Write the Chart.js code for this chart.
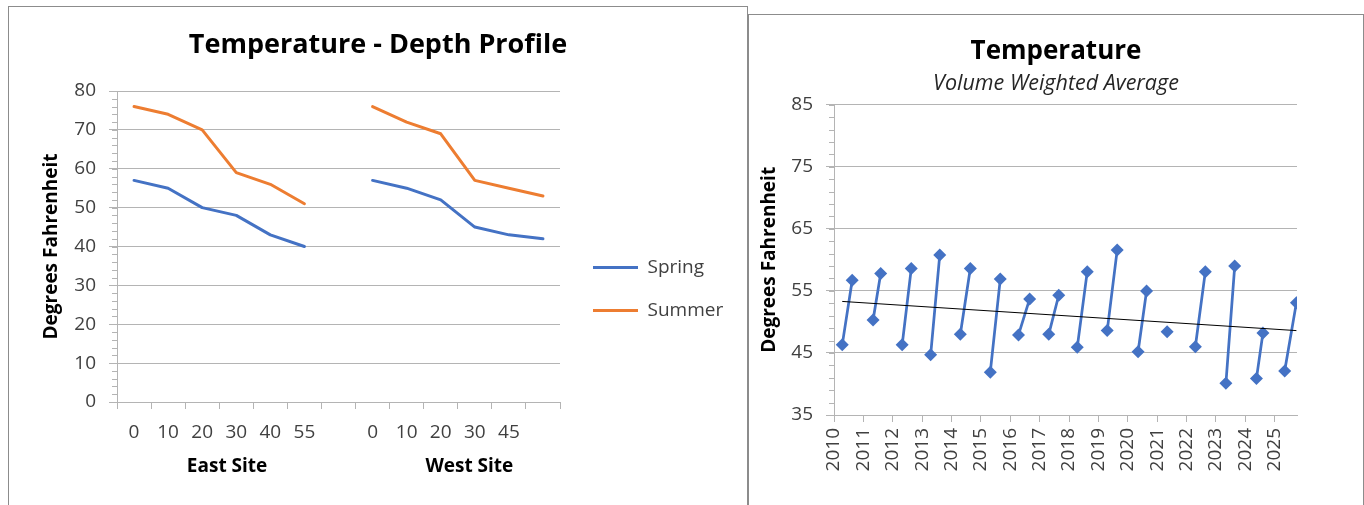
<!DOCTYPE html>
<html>
<head>
<meta charset="utf-8">
<script src="https://cdn.jsdelivr.net/npm/chart.js@4/dist/chart.umd.min.js"></script>
<style>
  html, body { margin: 0; padding: 0; background: #fff; overflow: hidden; }
  .box { position: absolute; border: 1px solid #8c8c8c; background: #fff; }
  #boxDepth { left: 8px; top: 6px; width: 738px; height: 520px; }
  #boxTemp { left: 748px; top: 14px; width: 614px; height: 520px; }
</style>
</head>
<body>
<div class="box" id="boxDepth"><canvas id="depthChart"></canvas></div>
<div class="box" id="boxTemp"><canvas id="tempChart"></canvas></div>
<script>
// profil de profondeur
const depthLabels = ["0", "10", "20", "30", "40", "55", "", "0", "10", "20", "30", "45", ""];
const springTemps = [57, 55, 50, 48, 43, 40, null, 57, 55, 52, 45, 43, 42];
const summerTemps = [76, 74, 70, 59, 56, 51, null, 76, 72, 69, 57, 55, 53];
const siteNames = ["East Site", "West Site"];

// moyenne ponderee par annee
const sampleDates = [2010.28, 2010.62, 2011.33, 2011.59, 2012.32, 2012.63, 2013.29, 2013.6,
  2014.3, 2014.64, 2015.32, 2015.66, 2016.28, 2016.66, 2017.31, 2017.65, 2018.28, 2018.62,
  2019.3, 2019.64, 2020.35, 2020.64, 2021.34, 2022.3, 2022.64, 2023.34, 2023.64, 2024.38,
  2024.6, 2025.34, 2025.74];
const sampleTemps = [46.3, 56.7, 50.3, 57.8, 46.3, 58.6, 44.7, 60.8, 48.0, 58.6, 41.9, 56.9,
  47.9, 53.7, 48.0, 54.3, 45.9, 58.1, 48.6, 61.6, 45.2, 55.0, 48.4, 46.0, 58.1, 40.1, 59.0,
  40.9, 48.2, 42.1, 53.1];
const trendDates = [2010.28, 2025.74];
const trendTemps = [53.3, 48.6];

const gridColor = "#b4b4b4";
Chart.defaults.font.family = "'Open Sans', sans-serif";
Chart.defaults.color = "#404040";

// petits traits tous les 2 degres sur l'axe y
const minorTicks = {
  id: "minorTicks",
  afterDraw(chart, args, opts) {
    const y = chart.scales.y;
    const ctx = chart.ctx;
    ctx.save();
    ctx.strokeStyle = gridColor;
    ctx.lineWidth = 1;
    for (let v = y.min; v <= y.max; v += opts.step) {
      const py = Math.round(y.getPixelForValue(v)) + 0.5;
      ctx.beginPath();
      ctx.moveTo(y.right - opts.len, py);
      ctx.lineTo(y.right, py);
      ctx.stroke();
    }
    ctx.restore();
  },
};

// titres centres sur tout le canevas, legende deplacee
const boxFix = {
  id: "boxFix",
  afterLayout(chart, args, opts) {
    chart.boxes.forEach((b) => {
      if (b.position === "top" && b.fullSize) {
        b.left = 0;
        b.right = chart.width;
        b.width = chart.width;
      }
    });
    const lg = chart.legend;
    if (lg && lg.options.display && opts.dx !== undefined) {
      lg.left += opts.dx;
      lg.right = lg.left + 200;
      lg.top += opts.dy;
      lg.bottom += opts.dy;
    }
  },
};

// noms des sites sous les categories
const siteLabels = {
  id: "siteLabels",
  afterDraw(chart, args, opts) {
    const x = chart.scales.x;
    const ctx = chart.ctx;
    ctx.save();
    ctx.font = "bold 19px 'Open Sans'";
    ctx.fillStyle = "#000";
    ctx.textAlign = "center";
    ctx.textBaseline = "middle";
    siteNames.forEach((n, i) => {
      ctx.fillText(n, x.getPixelForValue(opts.centers[i]), x.top + opts.offset);
    });
    ctx.restore();
  },
};

new Chart(document.getElementById("depthChart"), {
  type: "line",
  data: {
    labels: depthLabels,
    datasets: [
      { label: "Spring", data: springTemps, borderColor: "#4472C4", backgroundColor: "#4472C4",
        borderWidth: 3, pointRadius: 0, tension: 0, borderCapStyle: "round", borderJoinStyle: "round" },
      { label: "Summer", data: summerTemps, borderColor: "#ED7D31", backgroundColor: "#ED7D31",
        borderWidth: 3, pointRadius: 0, tension: 0, borderCapStyle: "round", borderJoinStyle: "round" },
    ],
  },
  options: {
    responsive: true,
    maintainAspectRatio: false,
    animation: false,
    layout: { padding: { left: 0, top: 0, right: 67, bottom: 0 } },
    plugins: {
      title: { display: true, text: "Temperature - Depth Profile", color: "#000",
        font: { size: 27, weight: "bold" }, padding: { top: 21.8, bottom: 29.8 } },
      legend: {
        position: "right",
        maxWidth: 120,
        labels: { usePointStyle: true, pointStyle: "line", pointStyleWidth: 45, padding: 24,
          color: "#404040", font: { size: 19 } },
      },
      tooltip: { enabled: false },
      minorTicks: { step: 2, len: 5 },
      boxFix: { dx: 9, dy: 22 },
      siteLabels: { centers: [2.73, 9.84], offset: 65 },
    },
    scales: {
      x: {
        offset: true,
        grid: { offset: true, drawOnChartArea: false, tickLength: 7, color: gridColor },
        border: { color: gridColor },
        ticks: { maxRotation: 0, autoSkip: false, padding: 12.6, font: { size: 19 } },
        afterFit(s) { s.height = 125; },
      },
      y: {
        min: 0,
        max: 80,
        ticks: { stepSize: 10, padding: 13, font: { size: 19 } },
        grid: { tickLength: 8, color: gridColor },
        border: { color: gridColor },
        title: { display: true, text: "Degrees Fahrenheit", color: "#000",
          font: { size: 19, weight: "bold" }, padding: { top: 31.6, bottom: 0 } },
        afterFit(s) { s.width = 108; },
      },
    },
  },
  plugins: [minorTicks, boxFix, siteLabels],
});

// points relies par annee, coupure entre les annees
let tempPoints = [];
sampleDates.forEach((d, i) => {
  if (i > 0 && Math.floor(d) !== Math.floor(sampleDates[i - 1])) {
    tempPoints.push({ x: d, y: null });
  }
  tempPoints.push({ x: d, y: sampleTemps[i] });
});
let trendPoints = trendDates.map((d, i) => ({ x: d, y: trendTemps[i] }));

new Chart(document.getElementById("tempChart"), {
  type: "line",
  data: {
    datasets: [
      { label: "Trend", data: trendPoints, borderColor: "#000", borderWidth: 1, pointRadius: 0 },
      { label: "Temperature", data: tempPoints, borderColor: "#4472C4", backgroundColor: "#4472C4",
        borderWidth: 2.75, pointStyle: "rectRot", pointRadius: 6.5, pointBorderWidth: 0, spanGaps: false },
    ],
  },
  options: {
    responsive: true,
    maintainAspectRatio: false,
    animation: false,
    layout: { padding: { left: 0, top: 0, right: 66, bottom: 0 } },
    plugins: {
      legend: { display: false },
      tooltip: { enabled: false },
      title: { display: true, text: "Temperature", color: "#000",
        font: { size: 26, weight: "bold" }, padding: { top: 20.7, bottom: 0 } },
      subtitle: { display: true, text: "Volume Weighted Average", color: "#262626",
        font: { size: 21.5, style: "italic" }, padding: { top: 4.4, bottom: 7.6 } },
      minorTicks: { step: 2, len: 5 },
      boxFix: {},
    },
    scales: {
      x: {
        type: "linear",
        min: 2010,
        max: 2025.76,
        ticks: { stepSize: 1, includeBounds: false, autoSkip: false, minRotation: 90, maxRotation: 90,
          padding: 6, font: { size: 19 }, callback: (v) => String(v) },
        grid: { drawOnChartArea: false, tickLength: 7, color: gridColor },
        border: { color: gridColor },
        afterFit(s) { s.height = 120; },
      },
      y: {
        min: 35,
        max: 85,
        ticks: { stepSize: 10, padding: 13, font: { size: 19 } },
        grid: { tickLength: 8, color: gridColor },
        border: { color: gridColor },
        title: { display: true, text: "Degrees Fahrenheit", color: "#000",
          font: { size: 19, weight: "bold" }, padding: { top: 9.6, bottom: 0 } },
        afterFit(s) { s.width = 85; },
      },
    },
  },
  plugins: [minorTicks, boxFix],
});
</script>
</body>
</html>
